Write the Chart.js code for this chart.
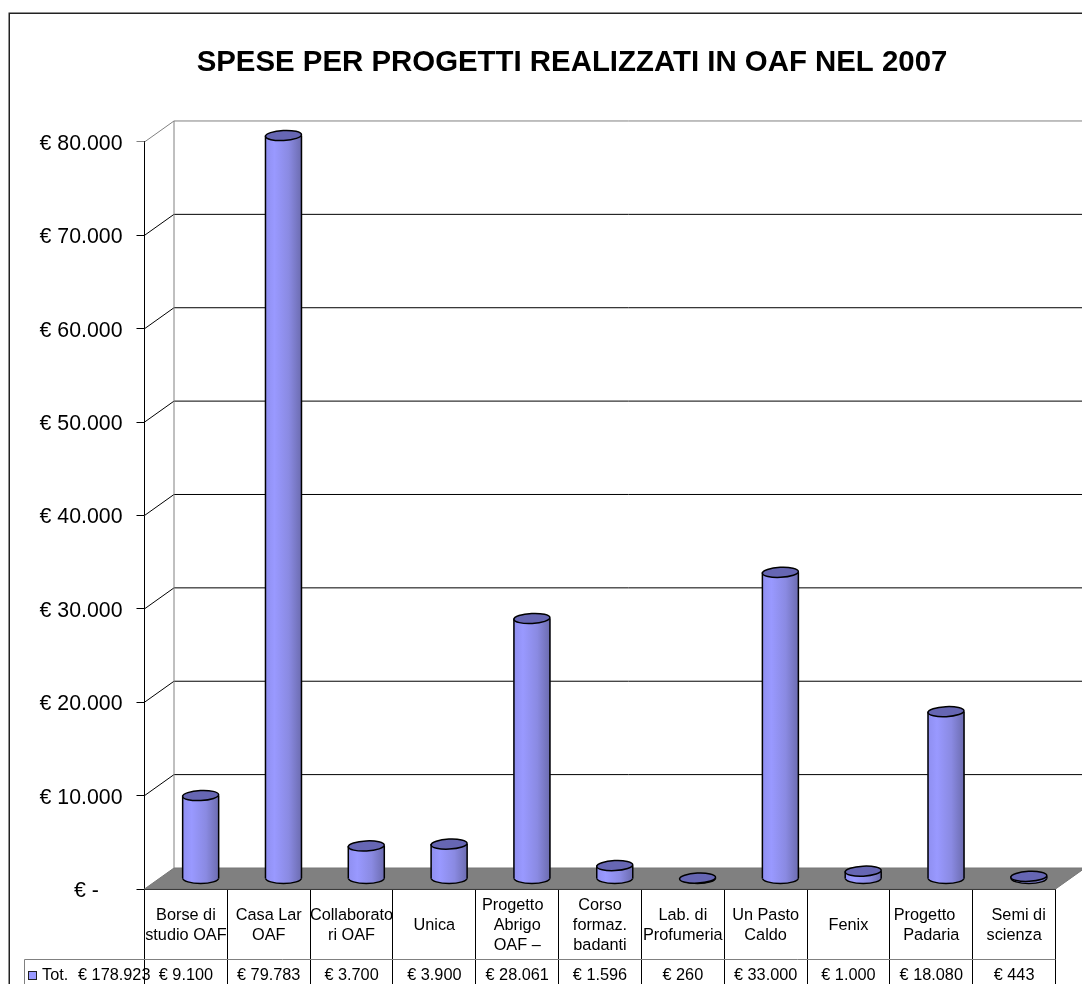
<!DOCTYPE html>
<html>
<head>
<meta charset="utf-8">
<style>html,body{margin:0;padding:0;background:#fff;overflow:hidden}canvas{display:block}</style>
<script src="https://cdn.jsdelivr.net/npm/chart.js@4"></script>
</head>
<body>
<canvas id="c" width="1082" height="984"></canvas>
<script>
const titleText = "SPESE PER PROGETTI REALIZZATI IN OAF NEL 2007";
const categories = [
  ["Borse di","studio OAF"],["Casa Lar","OAF"],["Collaborato","ri OAF"],["Unica"],
  ["Progetto  ","Abrigo","OAF –"],["Corso","formaz.","badanti"],["Lab. di","Profumeria"],
  ["Un Pasto","Caldo"],["Fenix"],["Progetto   ","Padaria"],["  Semi di","scienza"]
];
const values = [9100,79783,3700,3900,28061,1596,260,33000,1000,18080,443];
const seriesName = "Tot.";
const seriesTotal = 178923;

const FONT = "'Liberation Sans', Arial, sans-serif";
const DEPTH_X = 29.5, DEPTH_Y = 21;
const euro = v => "€ " + String(v).replace(/\B(?=(\d{3})+(?!\d))/g, ".");

const threeD = {
  id: "threeD",
  afterLayout(chart) {
    chart.titleBlock.left = 62;
    chart.titleBlock.right = 1082;
  },
  afterDatasetsUpdate(chart) {
    chart.getDatasetMeta(0).data.forEach(el => {
      el.x += DEPTH_X / 2;
      el.y -= 8.5;
      el.base -= DEPTH_Y / 2;
    });
  },
  beforeDraw(chart) {
    const c = chart.ctx;
    c.save();
    c.strokeStyle = "#222"; c.lineWidth = 1.5;
    c.strokeRect(9.25, 13.25, 1200, 1200);
    c.restore();
  },
  beforeDatasetsDraw(chart) {
    const c = chart.ctx, y = chart.scales.y, a = chart.chartArea;
    const far = a.right + DEPTH_X, backL = a.left + DEPTH_X;
    c.save();
    // floor
    c.fillStyle = "#808080"; c.strokeStyle = "#777"; c.lineWidth = 1;
    c.beginPath();
    c.moveTo(a.left, a.bottom); c.lineTo(backL, a.bottom - DEPTH_Y);
    c.lineTo(far, a.bottom - DEPTH_Y); c.lineTo(a.right, a.bottom);
    c.closePath(); c.fill(); c.stroke();
    // back wall grid and side wall diagonals
    y.ticks.forEach(t => {
      if (t.value === 0) return;
      const py = y.getPixelForValue(t.value);
      c.strokeStyle = t.value === y.max ? "#808080" : "#000";
      c.beginPath();
      c.moveTo(a.left, py); c.lineTo(backL, py - DEPTH_Y); c.lineTo(far, py - DEPTH_Y);
      c.stroke();
    });
    c.strokeStyle = "#808080";
    c.beginPath(); c.moveTo(backL, a.top - DEPTH_Y); c.lineTo(backL, a.bottom - DEPTH_Y); c.stroke();
    // cylinder bottoms
    c.strokeStyle = "#000"; c.lineWidth = 1.5;
    chart.getDatasetMeta(0).data.forEach(el => {
      c.fillStyle = el.options.backgroundColor;
      c.beginPath();
      c.ellipse(el.x, el.base, el.width / 2, 5.5, 0, 0, Math.PI);
      c.fill(); c.stroke();
    });
    c.restore();
  },
  afterDatasetsDraw(chart) {
    const c = chart.ctx;
    c.save();
    c.strokeStyle = "#000"; c.lineWidth = 1.5;
    chart.getDatasetMeta(0).data.forEach(el => {
      const r = el.width / 2;
      c.beginPath();
      c.moveTo(el.x - r, el.base); c.lineTo(el.x - r, el.y);
      c.moveTo(el.x + r, el.base); c.lineTo(el.x + r, el.y);
      c.stroke();
      c.fillStyle = "#6666b3";
      c.beginPath();
      c.ellipse(el.x, el.y, r, 5, -0.05, 0, Math.PI * 2);
      c.fill(); c.stroke();
    });
    c.restore();
  },
  afterDraw(chart) {
    const c = chart.ctx, x = chart.scales.x, a = chart.chartArea;
    c.save();
    const rowY = 959;
    c.strokeStyle = "#808080"; c.lineWidth = 1;
    c.beginPath();
    c.moveTo(24.5, 984); c.lineTo(24.5, rowY + .5); c.lineTo(a.right, rowY + .5);
    c.stroke();
    c.font = "16.3px " + FONT; c.fillStyle = "#000";
    c.textBaseline = "middle"; c.textAlign = "center";
    values.forEach((v, i) => c.fillText(euro(v), x.getPixelForValue(i), 976));
    c.textAlign = "left";
    c.fillText(seriesName, 42, 976);
    c.fillText(euro(seriesTotal), 78, 976);
    c.fillStyle = "#9999ff"; c.strokeStyle = "#222";
    c.fillRect(28.5, 971.5, 8, 8); c.strokeRect(28.5, 971.5, 8, 8);
    c.restore();
  }
};

new Chart(document.getElementById("c"), {
  type: "bar",
  data: {
    labels: categories,
    datasets: [{
      label: seriesName,
      data: values,
      barThickness: 36,
      borderWidth: 0,
      clip: false,
      backgroundColor(ctx) {
        const chart = ctx.chart;
        const sx = chart.scales.x;
        const cx = sx && ctx.dataIndex !== undefined ? sx.getPixelForValue(ctx.dataIndex) + DEPTH_X / 2 : NaN;
        if (!Number.isFinite(cx)) return "#9999ff";
        const g = chart.ctx.createLinearGradient(cx - 18, 0, cx + 18, 0);
        g.addColorStop(0, "#8f8ff0");
        g.addColorStop(.25, "#9999ff");
        g.addColorStop(.65, "#8a8ae2");
        g.addColorStop(1, "#6c6cb0");
        return g;
      }
    }]
  },
  options: {
    responsive: false,
    animation: false,
    devicePixelRatio: 1,
    layout: { padding: { left: 0, right: 26.5, top: 0, bottom: 0 } },
    plugins: {
      legend: { display: false },
      tooltip: { enabled: false },
      title: {
        display: true,
        text: titleText,
        color: "#000",
        font: { family: FONT, size: 29.4, weight: "bold" },
        padding: { top: 45, bottom: 61.7 }
      }
    },
    scales: {
      x: {
        type: "category",
        afterFit(s) { s.height = 95; },
        offset: true,
        border: { color: "#000", width: 1 },
        grid: { offset: true, drawOnChartArea: false, drawTicks: true, tickLength: 95, tickColor: "#000", tickWidth: 1 },
        ticks: { autoSkip: false, maxRotation: 0, minRotation: 0, crossAlign: "center", padding: -78, color: "#000",
          font: { family: FONT, size: 16.3, lineHeight: 1.22 } }
      },
      y: {
        min: 0, max: 80000,
        afterFit(s) { s.width = 144.5; },
        border: { color: "#000", width: 1 },
        grid: { drawOnChartArea: false, tickLength: 8, tickWidth: 1,
          tickColor: c => c.tick && c.tick.value === 80000 ? "#808080" : "#000" },
        ticks: { stepSize: 10000, padding: 14, labelOffset: 2, color: "#000",
          font: { family: FONT, size: 21.3 },
          callback: v => v === 0 ? "€ -    " : euro(v) }
      }
    }
  },
  plugins: [threeD]
});
</script>
</body>
</html>
